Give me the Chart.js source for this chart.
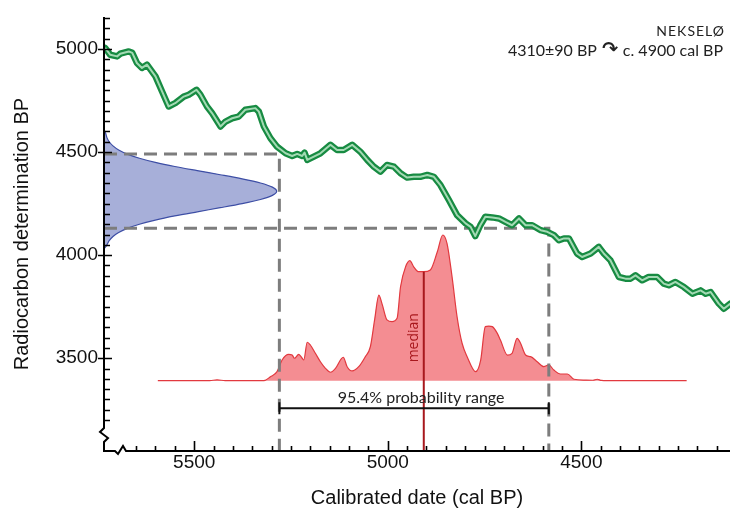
<!DOCTYPE html>
<html>
<head>
<meta charset="utf-8">
<script src="https://cdn.jsdelivr.net/npm/chart.js@4.4.1/dist/chart.umd.min.js"></script>
<style>
  html, body { margin: 0; padding: 0; background: #fff; }
  #wrap { width: 730px; height: 511px; }
</style>
</head>
<body>
<div id="wrap"><canvas id="c" width="730" height="511"></canvas></div>
<script>
// Calibration curve (IntCal): calendar age, cal BP
const curveCal = [5730,5717,5699,5691,5669,5660,5648,5635,5622,5600,
  5583,5566,5549,5527,5514,5494,5484,5467,5454,5432,
  5419,5402,5385,5368,5342,5333,5320,5303,5286,5264,
  5247,5234,5221,5215,5208,5191,5174,5148,5131,5114,
  5092,5071,5053,5036,5019,5002,4984,4967,4950,4933,
  4916,4898,4881,4864,4842,4821,4799,4786,4774,4761,
  4748,4730,4713,4696,4679,4661,4644,4627,4605,4588,
  4571,4558,4545,4532,4511,4498,4476,4455,4442,4425,
  4403,4386,4373,4360,4343,4326,4304,4287,4274,4257,
  4235,4213,4192,4179,4166,4145,4132,4115];
// Calibration curve: radiocarbon age, BP
const curveBP = [5005,4972,4964,4977,4988,4981,4932,4908,4924,4867,
  4794,4721,4737,4769,4778,4802,4778,4721,4689,4624,
  4648,4664,4672,4705,4713,4696,4624,4567,4526,4494,
  4481,4491,4481,4497,4462,4478,4494,4535,4510,4510,
  4535,4502,4462,4429,4405,4437,4429,4397,4376,4380,
  4380,4389,4380,4340,4267,4194,4154,4137,4092,4145,
  4186,4183,4178,4161,4145,4178,4145,4145,4121,4113,
  4097,4072,4081,4081,4008,3991,4008,4040,4008,3975,
  3894,3886,3886,3902,3878,3894,3894,3862,3854,3870,
  3845,3813,3829,3813,3821,3765,3740,3765];

// Measured age 4310 ± 90 BP: radiocarbon levels and relative density (peak = 1)
const c14Levels  = [4030,4050,4070,4090,4110,4130,4150,4170,4190,4210,4230,4250,4270,4290,4310,
                    4330,4350,4370,4390,4410,4430,4450,4470,4490,4510,4530,4550,4570,4590,4610];
const c14Density = [0.000,0.017,0.030,0.052,0.085,0.135,0.205,0.297,0.410,0.540,0.673,0.800,0.906,0.975,1.000,
                    0.975,0.906,0.800,0.673,0.540,0.410,0.297,0.205,0.135,0.085,0.052,0.030,0.017,0.010,0.000];

// Calibrated date: calendar age (cal BP) and relative probability (peak = 1)
const calDates = [5594,5460,5441,5420,5320,5303,5286,5273,5256,5247,5241,5230,5221,5217,5208,5200,5187,5174,5161,5148,
  5135,5115,5105,5092,5075,5058,5045,5034,5023,5014,5002,4989,4976,4967,4954,4943,4933,4920,4907,4890,
  4872,4858,4847,4834,4821,4808,4795,4773,4760,4748,4739,4730,4717,4709,4691,4679,4666,4657,4644,4631,
  4614,4597,4584,4571,4554,4536,4519,4490,4470,4459,4448,4416,4228];
const calProb = [0,0,0.006,0,0,0.027,0.062,0.142,0.181,0.176,0.154,0.181,0.154,0.142,0.264,0.245,0.188,0.130,0.085,0.058,
  0.085,0.161,0.096,0.067,0.096,0.165,0.233,0.417,0.588,0.520,0.417,0.405,0.428,0.645,0.782,0.824,0.782,0.748,0.748,0.760,
  0.885,1.000,0.943,0.714,0.439,0.257,0.165,0.062,0.142,0.371,0.375,0.371,0.325,0.279,0.176,0.188,0.291,0.257,0.176,0.165,
  0.130,0.096,0.108,0.073,0.046,0.046,0.010,0.004,0.003,0.010,0.002,0,0];

const rangeCal = [5280, 4584];   // 95.4% probability range, cal BP
const rangeBP  = [4490, 4130];   // 4310 ± 2σ, BP
const medianCal = 4907;
const medianProb = 0.748;

// Axis limits and labelled tick values
const X_MIN = 4116, X_MAX = 5733;
const Y_MIN = 3050, Y_MAX = 5155;
const xMajor = [4500, 5000, 5500];
const yMajor = [3500, 4000, 4500, 5000];

const sampleName = 'NEKSELØ';
const resultLeft = '4310±90 BP';
const resultArrow = '\u21B7';
const resultRight = 'c. 4900 cal BP';
const rangeText = '95.4% probability range';

Chart.defaults.font.family = '"Liberation Sans", Arial, Helvetica, sans-serif';

const pts = (xs, ys) => xs.map((v, i) => ({ x: v, y: ys[i] }));

// Axis lines with break marks, inward ticks, median, range bracket and captions
const decor = {
  id: 'decor',
  afterDatasetsDraw(chart) {
    const { ctx, chartArea: a, scales } = chart;
    const xs = scales.x, ys = scales.y, yp = scales.yp;
    const L = a.left, B = a.bottom;
    ctx.save();

    // median line and label
    const mx = xs.getPixelForValue(medianCal);
    ctx.strokeStyle = '#a8181d';
    ctx.lineWidth = 2;
    ctx.beginPath();
    ctx.moveTo(mx, yp.getPixelForValue(medianProb));
    ctx.lineTo(mx, B);
    ctx.stroke();
    ctx.save();
    ctx.translate(mx - 10, yp.getPixelForValue(0) - 43);
    ctx.rotate(-Math.PI / 2);
    ctx.fillStyle = '#a8181d';
    ctx.font = '14px "Open Sans", sans-serif';
    ctx.textAlign = 'center';
    ctx.textBaseline = 'middle';
    ctx.fillText('median', 0, 0);
    ctx.restore();

    // 95.4% range bracket
    const r0 = xs.getPixelForValue(rangeCal[0]);
    const r1 = xs.getPixelForValue(rangeCal[1]);
    const by = yp.getPixelForValue(0) + 27.5;
    ctx.strokeStyle = '#111';
    ctx.lineWidth = 2;
    ctx.beginPath();
    ctx.moveTo(r0, by); ctx.lineTo(r1, by);
    ctx.moveTo(r0, by - 6); ctx.lineTo(r0, by + 6);
    ctx.moveTo(r1, by - 6); ctx.lineTo(r1, by + 6);
    ctx.stroke();
    ctx.fillStyle = '#222';
    ctx.font = '16px Lato, "Open Sans", sans-serif';
    ctx.textAlign = 'center';
    ctx.textBaseline = 'alphabetic';
    ctx.fillText(rangeText, (r0 + r1) / 2 + 7, by - 5);

    // axis lines with break marks
    ctx.strokeStyle = '#000';
    ctx.lineWidth = 2;
    ctx.lineJoin = 'miter';
    ctx.beginPath();
    ctx.moveTo(L, a.top);
    ctx.lineTo(L, B - 23);
    ctx.lineTo(L - 4, B - 19);
    ctx.lineTo(L + 4, B - 13);
    ctx.lineTo(L, B - 9);
    ctx.lineTo(L, B);
    ctx.lineTo(L + 11, B);
    ctx.lineTo(L + 14, B + 3);
    ctx.lineTo(L + 19, B - 5);
    ctx.lineTo(L + 22, B);
    ctx.lineTo(a.right, B);
    ctx.stroke();

    // inward tick marks
    ctx.lineWidth = 1.6;
    ctx.beginPath();
    ys.ticks.forEach(t => {
      const v = Math.round(t.value);
      if (v % 50 !== 0 || v < 3200) return;
      const y = Math.round(ys.getPixelForValue(v)) + 0.5;
      if (yMajor.includes(v) || v % 500 === 0) { ctx.moveTo(L - 6, y); ctx.lineTo(L + 8, y); }
      else { ctx.moveTo(L, y); ctx.lineTo(L + 6, y); }
    });
    xs.ticks.forEach(t => {
      const v = Math.round(t.value);
      if (v % 50 !== 0 || v > 5650 || v < X_MIN) return;
      const x = Math.round(xs.getPixelForValue(v)) + 0.5;
      if (xMajor.includes(v)) { ctx.moveTo(x, B); ctx.lineTo(x, B - 10); }
      else { ctx.moveTo(x, B); ctx.lineTo(x, B - 5); }
    });
    ctx.stroke();

    // sample caption
    ctx.fillStyle = '#222';
    ctx.textAlign = 'right';
    ctx.textBaseline = 'middle';
    ctx.font = '14px Lato, "Open Sans", sans-serif';
    if ('letterSpacing' in ctx) ctx.letterSpacing = '1px';
    ctx.fillText(sampleName, 725, 31);
    if ('letterSpacing' in ctx) ctx.letterSpacing = '0px';

    // result line: "4310±90 BP ↷ c. 4900 cal BP", right aligned
    let x = 723;
    ctx.font = '16px Lato, "Open Sans", sans-serif';
    ctx.fillText(resultRight, x, 51);
    x -= ctx.measureText(resultRight).width + 5;
    ctx.font = 'bold 19px "DejaVu Sans", sans-serif';
    ctx.fillText(resultArrow, x, 50);
    x -= ctx.measureText(resultArrow).width + 5;
    ctx.font = '16px Lato, "Open Sans", sans-serif';
    ctx.fillText(resultLeft, x, 51);

    ctx.restore();
  }
};

new Chart(document.getElementById('c'), {
  type: 'scatter',
  data: {
    datasets: [
      { // calibration curve, light core
        data: pts(curveCal, curveBP), showLine: true, borderColor: '#a4dab4', borderWidth: 2,
        pointRadius: 0, borderJoinStyle: 'round', order: 1 },
      { // calibration curve, dark band
        data: pts(curveCal, curveBP), showLine: true, borderColor: '#178b42', borderWidth: 6.5,
        pointRadius: 0, borderJoinStyle: 'round', borderCapStyle: 'round', order: 2 },
      { // upper range guide
        data: [{ x: X_MAX, y: rangeBP[0] }, { x: rangeCal[0], y: rangeBP[0] }, { x: rangeCal[0], y: Y_MIN }],
        showLine: true, borderColor: '#7d7d7d', borderWidth: 3, borderDash: [13, 7], pointRadius: 0, order: 3 },
      { // lower range guide
        data: [{ x: X_MAX, y: rangeBP[1] }, { x: rangeCal[1], y: rangeBP[1] }, { x: rangeCal[1], y: Y_MIN }],
        showLine: true, borderColor: '#7d7d7d', borderWidth: 3, borderDash: [13, 7], pointRadius: 0, order: 3 },
      { // radiocarbon measurement
        data: pts(c14Density, c14Levels), xAxisID: 'xb', yAxisID: 'y', showLine: true, fill: 'shape',
        backgroundColor: '#a7afd9', borderColor: '#3d4ea5', borderWidth: 1.2, pointRadius: 0,
        tension: 0.3, order: 5 },
      { // calibrated probability
        data: pts(calDates, calProb), xAxisID: 'x', yAxisID: 'yp', showLine: true, fill: 'origin',
        backgroundColor: '#f48d92', borderColor: '#e2393f', borderWidth: 1.2, pointRadius: 0,
        cubicInterpolationMode: 'monotone', order: 6 }
    ]
  },
  options: {
    responsive: false,
    animation: false,
    devicePixelRatio: 1,
    layout: { padding: { top: 17, right: 0, left: 0, bottom: 0 } },
    plugins: { legend: { display: false }, tooltip: { enabled: false } },
    scales: {
      x: {
        type: 'linear', position: 'bottom', reverse: true, min: X_MIN, max: X_MAX,
        grid: { display: false, drawTicks: false }, border: { display: false },
        ticks: {
          stepSize: 50, autoSkip: false, maxRotation: 0, minRotation: 0, includeBounds: false,
          padding: 0, color: '#111', font: { size: 19 },
          callback: v => xMajor.includes(Math.round(v)) ? String(Math.round(v)) : ''
        },
        title: { display: true, text: 'Calibrated date (cal BP)', color: '#111', font: { size: 20 },
                 padding: { top: 0, bottom: 1 } },
        afterFit(s) { s.height = 60; s.paddingLeft = 0; s.paddingRight = 0; }
      },
      y: {
        type: 'linear', position: 'left', min: Y_MIN, max: Y_MAX,
        grid: { display: false, drawTicks: false }, border: { display: false },
        ticks: {
          stepSize: 50, autoSkip: false, includeBounds: false, padding: 6, color: '#111', font: { size: 19 },
          callback: v => yMajor.includes(Math.round(v)) ? String(Math.round(v)) : ''
        },
        title: { display: true, text: 'Radiocarbon determination BP', color: '#111', font: { size: 20 },
                 padding: { top: 10.5, bottom: 0 } },
        afterFit(s) { s.width = 104; s.paddingTop = 0; s.paddingBottom = 0; }
      },
      xb: { axis: 'x', type: 'linear', display: false, min: 0, max: 3.625 },
      yp: { axis: 'y', type: 'linear', display: false, min: -0.4825, max: 2.4962 }
    }
  },
  plugins: [decor]
});
</script>
</body>
</html>
